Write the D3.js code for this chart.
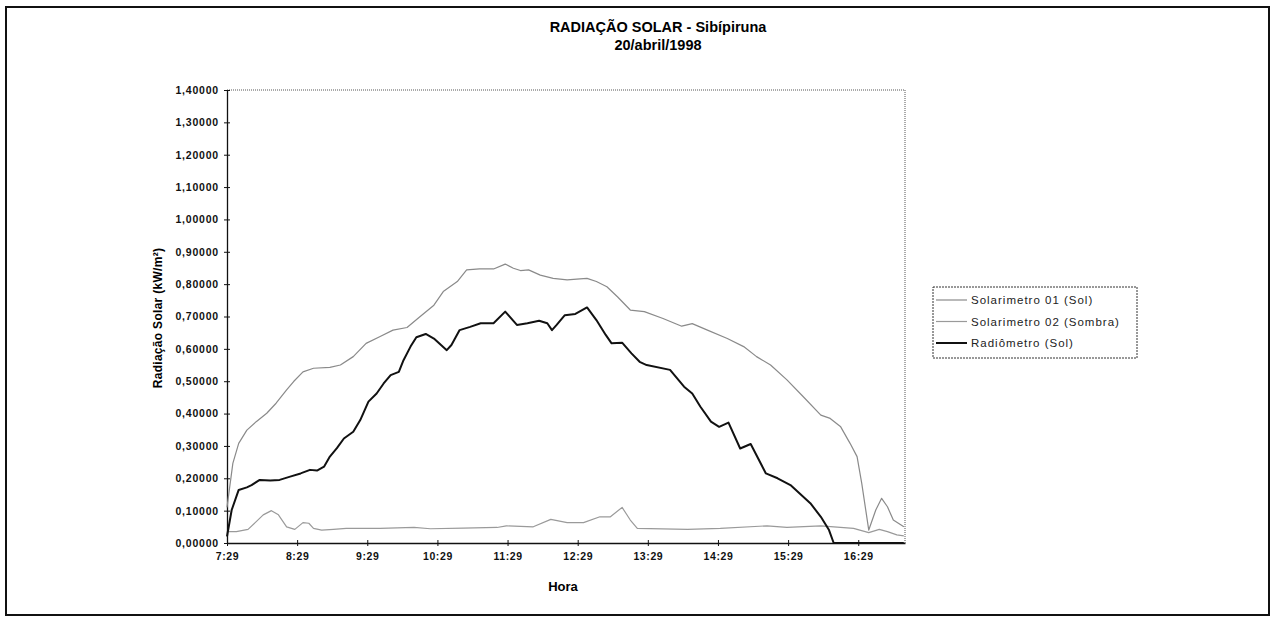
<!DOCTYPE html>
<html><head><meta charset="utf-8">
<script src="https://cdn.jsdelivr.net/npm/d3@7"></script>
<style>body{margin:0;background:#fff}svg{display:block}text{font-family:Arial,"Liberation Sans",sans-serif}</style>
</head><body><svg id="c" width="1273" height="617"></svg>
<script>
const title1 = "RADIAÇÃO SOLAR - Sibípiruna";
const title2 = "20/abril/1998";
const yTitle = "Radiação Solar (kW/m²)";
const xTitle = "Hora";
const xTickLabels = ["7:29","8:29","9:29","10:29","11:29","12:29","13:29","14:29","15:29","16:29"];
const yTicks = [0,0.1,0.2,0.3,0.4,0.5,0.6,0.7,0.8,0.9,1.0,1.1,1.2,1.3,1.4];
const seriesNames = ["Solarimetro 01 (Sol)","Solarimetro 02 (Sombra)","Radiômetro (Sol)"];

// minutes after 7:29
const sol01Min = [0,5,10,17,25,34,42,51,57,65,74,88,97,108,119,131,142,154,165,177,185,197,205,216,228,238,245,251,258,268,279,291,302,308,316,325,334,345,357,373,389,398,411,428,442,453,465,479,493,508,516,525,533,539,543,549,555,560,565,570,579];
const sol01Val = [0.11,0.246,0.308,0.349,0.375,0.401,0.432,0.473,0.499,0.529,0.540,0.543,0.550,0.576,0.617,0.638,0.658,0.666,0.699,0.735,0.777,0.808,0.844,0.847,0.847,0.862,0.849,0.842,0.844,0.828,0.818,0.813,0.816,0.818,0.808,0.792,0.761,0.720,0.715,0.694,0.670,0.678,0.658,0.632,0.607,0.576,0.550,0.504,0.452,0.395,0.385,0.359,0.308,0.267,0.184,0.040,0.102,0.138,0.112,0.071,0.050];

const sol02Min = [0,8,18,25,31,38,44,51,58,65,70,74,81,91,102,131,160,174,202,231,239,262,277,291,305,319,328,338,345,351,394,422,462,479,508,536,549,558,565,573,579];
const sol02Val = [0.035,0.035,0.042,0.066,0.087,0.100,0.087,0.050,0.042,0.063,0.061,0.045,0.040,0.042,0.045,0.045,0.048,0.044,0.046,0.048,0.053,0.050,0.073,0.063,0.063,0.081,0.081,0.110,0.071,0.045,0.042,0.045,0.053,0.048,0.053,0.045,0.032,0.042,0.035,0.025,0.022];

const radMin = [0,4,10,17,21,28,37,45,54,63,71,77,83,88,94,100,108,114,121,128,134,140,147,151,157,162,170,177,188,192,199,208,217,228,238,248,257,267,274,278,282,289,298,308,316,324,329,338,346,353,359,379,391,398,405,414,421,429,439,448,461,471,482,499,508,515,519,540,560,579];
const radVal = [0.020,0.102,0.164,0.172,0.179,0.195,0.193,0.195,0.205,0.215,0.226,0.224,0.236,0.267,0.293,0.323,0.344,0.380,0.437,0.462,0.493,0.519,0.529,0.565,0.607,0.636,0.646,0.632,0.596,0.612,0.658,0.668,0.679,0.679,0.715,0.674,0.679,0.687,0.679,0.658,0.674,0.704,0.708,0.728,0.689,0.643,0.617,0.619,0.586,0.560,0.550,0.535,0.483,0.462,0.421,0.375,0.359,0.372,0.292,0.306,0.215,0.200,0.179,0.123,0.081,0.040,0.0,0.0,0.0,0.0];

const svg = d3.select("#c");
const m = {l:227, r:905, t:90, b:543};
const x = d3.scaleLinear().domain([0,580]).range([m.l, m.r]);
const y = d3.scaleLinear().domain([0,1.4]).range([m.b, m.t]);

// outer frame
svg.append("rect").attr("x",6).attr("y",7).attr("width",1263).attr("height",608)
  .attr("fill","none").attr("stroke","#111").attr("stroke-width",2);

// plot frame (dotted top/right)
svg.append("path").attr("d",`M${m.l},${m.t}H${m.r}V${m.b}`)
  .attr("fill","none").attr("stroke","#555").attr("stroke-width",1).attr("stroke-dasharray","1,1");

// titles
svg.append("text").attr("x",658).attr("y",32).attr("text-anchor","middle")
  .attr("font-size",14.5).attr("font-weight","bold").text(title1);
svg.append("text").attr("x",658).attr("y",50).attr("text-anchor","middle")
  .attr("font-size",14.5).attr("font-weight","bold").text(title2);

// y axis
const yAxis = d3.axisLeft(y).tickValues(yTicks).tickSize(0).tickPadding(8)
  .tickFormat(d => d3.format(".5f")(d).replace(".",","));
const gy = svg.append("g").attr("transform",`translate(${m.l},0)`).call(yAxis);
gy.select(".domain").attr("stroke","#111").attr("stroke-width",1.3);
gy.selectAll(".tick").append("line").attr("x1",-3).attr("x2",3).attr("stroke","#111");
gy.selectAll("text").attr("font-size",10.5).attr("font-weight","bold").attr("fill","#111")
  .attr("letter-spacing","0.8px").attr("font-family","Arial,'Liberation Sans',sans-serif");

// x axis
const xAxis = d3.axisBottom(x).tickValues(d3.range(0, xTickLabels.length).map(i=>i*60))
  .tickSize(0).tickPadding(10).tickFormat((d,i)=>xTickLabels[i]);
const gx = svg.append("g").attr("transform",`translate(0,${m.b})`).call(xAxis);
gx.select(".domain").attr("stroke","#111").attr("stroke-width",1.3);
gx.selectAll(".tick").append("line").attr("y1",-3).attr("y2",3).attr("stroke","#111");
gx.selectAll("text").attr("font-size",10.5).attr("font-weight","bold").attr("fill","#111")
  .attr("letter-spacing","0.6px").attr("font-family","Arial,'Liberation Sans',sans-serif");

// axis titles
svg.append("text").attr("transform","translate(162,318) rotate(-90)").attr("text-anchor","middle")
  .attr("font-size",12).attr("font-weight","bold").attr("letter-spacing","0.3px").text(yTitle);
svg.append("text").attr("x",563).attr("y",591).attr("text-anchor","middle")
  .attr("font-size",13).attr("font-weight","bold").text(xTitle);

// lines
const line = d3.line().x(d=>x(d[0])).y(d=>y(d[1]));
const series = [
  {pts: d3.zip(sol01Min, sol01Val), color:"#8a8a8a", w:1.2},
  {pts: d3.zip(sol02Min, sol02Val), color:"#9a9a9a", w:1.2},
  {pts: d3.zip(radMin, radVal), color:"#111", w:2}
];
series.forEach(s=>{
  svg.append("path").attr("d", line(s.pts)).attr("fill","none")
    .attr("stroke", s.color).attr("stroke-width", s.w).attr("stroke-linejoin","round");
});

// legend
const lg = svg.append("g");
lg.append("rect").attr("x",933).attr("y",287).attr("width",204).attr("height",71)
  .attr("fill","#fff").attr("stroke","#333").attr("stroke-width",1).attr("stroke-dasharray","2,1");
seriesNames.forEach((n,i)=>{
  const yy = 300 + i*21.5;
  lg.append("line").attr("x1",936).attr("x2",967).attr("y1",yy).attr("y2",yy)
    .attr("stroke",series[i].color).attr("stroke-width",series[i].w);
  lg.append("text").attr("x",971).attr("y",yy+4).attr("font-size",11.5).attr("letter-spacing","1px")
    .attr("fill","#222").text(n);
});
</script></body></html>
